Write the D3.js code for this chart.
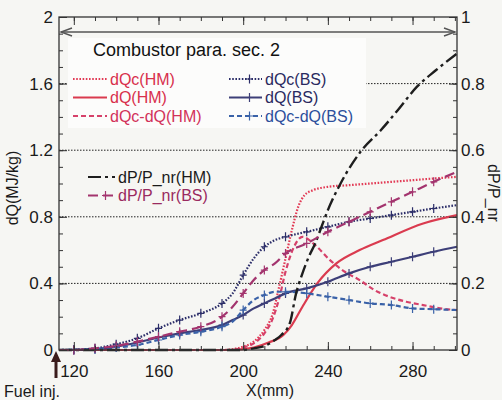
<!DOCTYPE html>
<html>
<head>
<meta charset="utf-8">
<script src="https://cdn.jsdelivr.net/npm/d3@7"></script>
<style>
body { margin: 0; background: #f6f6f3; }
text { font-family: "Liberation Sans", Arial, sans-serif; }
</style>
</head>
<body>
<svg></svg>
<script>
// X positions (mm) and values
const xQcHM = [113, 190, 200, 205, 210, 214, 217, 220, 223, 226, 229, 233, 240, 250, 260, 270, 280, 290, 301]
const dQcHM = [0, 0, 0.02, 0.05, 0.12, 0.22, 0.38, 0.55, 0.72, 0.86, 0.93, 0.96, 0.98, 0.99, 1.0, 1.01, 1.02, 1.03, 1.04]

const xQHM = [113, 195, 200, 205, 212, 219, 223, 228, 235, 244, 255, 266, 285, 301]
const dQHM = [0, 0, 0.005, 0.015, 0.045, 0.09, 0.15, 0.26, 0.4, 0.52, 0.6, 0.66, 0.76, 0.81]

const xDiffHM = [113, 195, 200, 205, 210, 214, 217, 220, 224, 228, 234, 241, 248, 255, 262, 269, 277, 285, 293, 301]
const dQdiffHM = [0, 0, 0.015, 0.04, 0.1, 0.19, 0.31, 0.47, 0.62, 0.68, 0.63, 0.54, 0.47, 0.42, 0.36, 0.32, 0.29, 0.27, 0.25, 0.24]

const xBS = [113, 120, 130, 140, 150, 160, 170, 180, 190, 195, 200, 205, 210, 215, 220, 230, 240, 250, 260, 270, 280, 290, 301]
const dQcBS = [0, 0.002, 0.01, 0.035, 0.07, 0.13, 0.18, 0.22, 0.28, 0.34, 0.45, 0.55, 0.62, 0.66, 0.68, 0.71, 0.74, 0.77, 0.79, 0.81, 0.83, 0.85, 0.87]
const dQBS = [0, 0, 0.005, 0.02, 0.045, 0.075, 0.1, 0.12, 0.15, 0.18, 0.21, 0.25, 0.28, 0.31, 0.34, 0.37, 0.41, 0.46, 0.5, 0.53, 0.56, 0.59, 0.62]
const dQdiffBS = [0, 0.002, 0.005, 0.015, 0.03, 0.06, 0.09, 0.11, 0.14, 0.17, 0.24, 0.3, 0.33, 0.35, 0.35, 0.34, 0.32, 0.3, 0.28, 0.27, 0.25, 0.245, 0.24]
const dPBS = [0, 0, 0.005, 0.012, 0.025, 0.04, 0.055, 0.07, 0.1, 0.13, 0.17, 0.21, 0.24, 0.26, 0.29, 0.32, 0.355, 0.385, 0.415, 0.445, 0.475, 0.505, 0.535]

const xPHM = [113, 200, 205, 210, 215, 218, 222, 225, 228, 231, 234, 237, 240, 246, 256, 265, 273, 282, 291, 301]
const dPHM = [0, 0, 0.005, 0.012, 0.03, 0.045, 0.08, 0.17, 0.23, 0.28, 0.32, 0.37, 0.42, 0.5, 0.6, 0.66, 0.72, 0.79, 0.84, 0.89]

const xTicks = [120, 160, 200, 240, 280]
const yTicks = [0, 0.4, 0.8, 1.2, 1.6, 2]
const y2Ticks = [0, 0.2, 0.4, 0.6, 0.8, 1]
const gridVals = [0.4, 0.8, 1.2, 1.6]

const width = 502
const height = 400

const svg = d3.select("svg")
      .attr("width", width)
      .attr("height", height)

const x = d3.scaleLinear().domain([113, 301]).range([59, 457])
const y = d3.scaleLinear().domain([0, 2]).range([350, 17])
const y2 = d3.scaleLinear().domain([0, 1]).range([350, 17])

// grid
svg.append("g")
      .selectAll("line")
      .data(gridVals)
      .join("line")
      .attr("x1", x.range()[0]).attr("x2", x.range()[1])
      .attr("y1", d => y(d)).attr("y2", d => y(d))
      .attr("stroke", "#222")
      .attr("stroke-width", 1)
      .attr("stroke-dasharray", "1.5,1.5")

// legend background hides the grid
svg.append("rect")
      .attr("x", 68).attr("y", 38)
      .attr("width", 298).attr("height", 90)
      .attr("fill", "#fcfcfb")

// top double arrow
const arrowY = 32
svg.append("line")
      .attr("x1", 61).attr("x2", 455)
      .attr("y1", arrowY).attr("y2", arrowY)
      .attr("stroke", "#555").attr("stroke-width", 1.4)
svg.append("path")
      .attr("d", `M72,${arrowY - 4}L61,${arrowY}L72,${arrowY + 4}M444,${arrowY - 4}L455,${arrowY}L444,${arrowY + 4}`)
      .attr("fill", "none").attr("stroke", "#555").attr("stroke-width", 1.4)

const series = [
      { name: "dQc(HM)", xs: xQcHM, ys: dQcHM, sc: y, color: "#e23a55", dash: "1.6,1.6", w: 2.2, mark: false },
      { name: "dQ(HM)", xs: xQHM, ys: dQHM, sc: y, color: "#da3b4f", dash: null, w: 2.2, mark: false },
      { name: "dQc-dQ(HM)", xs: xDiffHM, ys: dQdiffHM, sc: y, color: "#d6416a", dash: "5,3", w: 2.2, mark: false },
      { name: "dQc(BS)", xs: xBS, ys: dQcBS, sc: y, color: "#2b2d68", dash: "1.6,1.6", w: 2.2, mark: true },
      { name: "dQ(BS)", xs: xBS, ys: dQBS, sc: y, color: "#3d3f78", dash: null, w: 2.2, mark: true },
      { name: "dQc-dQ(BS)", xs: xBS, ys: dQdiffBS, sc: y, color: "#3a62a8", dash: "5,3", w: 2.2, mark: true },
      { name: "dP/P_nr(HM)", xs: xPHM, ys: dPHM, sc: y2, color: "#1e1e1e", dash: "13,4,3,4", w: 2.4, mark: false },
      { name: "dP/P_nr(BS)", xs: xBS, ys: dPBS, sc: y2, color: "#a3346e", dash: "10,5", w: 2.2, mark: true }
]

const line = d3.line().curve(d3.curveMonotoneX)

const plot = svg.append("g")
series.forEach(s => {
      const pts = s.xs.map((v, i) => [x(v), s.sc(s.ys[i])])
      plot.append("path")
            .attr("d", line(pts))
            .attr("fill", "none")
            .attr("stroke", s.color)
            .attr("stroke-width", s.w)
            .attr("stroke-dasharray", s.dash)
      if (s.mark) {
            plot.append("g")
                  .selectAll("path")
                  .data(pts.filter((p, i) => s.xs[i] % 10 === 0 && s.xs[i] > 113 && s.xs[i] < 301))
                  .join("path")
                  .attr("transform", d => `translate(${d[0]},${d[1]})`)
                  .attr("d", "M-3.5,0H3.5M0,-4.5V4.5")
                  .attr("stroke", s.color)
                  .attr("stroke-width", 1.2)
      }
})

// axes
const fmt = d => String(+d.toFixed(1))
const minorX = d3.range(120, 301, 10)
const minorY = d3.range(0, 2.01, 0.1)

const axisG = svg.append("g")

axisG.append("g").attr("transform", "translate(0,350)")
      .call(d3.axisBottom(x).tickValues(minorX).tickSize(-4).tickFormat(""))
axisG.append("g").attr("transform", "translate(0,350)")
      .call(d3.axisBottom(x).tickValues(xTicks).tickSize(-8).tickPadding(15).tickFormat(d3.format("d")))
axisG.append("g").attr("transform", "translate(0,17)")
      .call(d3.axisTop(x).tickValues(minorX).tickSize(-4).tickFormat(""))
axisG.append("g").attr("transform", "translate(0,17)")
      .call(d3.axisTop(x).tickValues(xTicks).tickSize(-8).tickFormat(""))

axisG.append("g").attr("transform", "translate(59,0)")
      .call(d3.axisLeft(y).tickValues(minorY).tickSize(-4).tickFormat(""))
axisG.append("g").attr("transform", "translate(59,0)")
      .call(d3.axisLeft(y).tickValues(yTicks).tickSize(-8).tickPadding(6).tickFormat(fmt))
axisG.append("g").attr("transform", "translate(457,0)")
      .call(d3.axisRight(y2).tickValues(minorY.map(v => v / 2)).tickSize(-4).tickFormat(""))
axisG.append("g").attr("transform", "translate(457,0)")
      .call(d3.axisRight(y2).tickValues(y2Ticks).tickSize(-8).tickPadding(4).tickFormat(fmt))

axisG.selectAll(".domain").remove()
axisG.selectAll("line").attr("stroke", "#333")
axisG.selectAll("text")
      .attr("fill", "#1a1a1a")
      .attr("font-size", 17)
      .attr("font-family", "'Liberation Sans', Arial, sans-serif")

svg.append("rect")
      .attr("x", 59).attr("y", 17)
      .attr("width", 398).attr("height", 333)
      .attr("fill", "none").attr("stroke", "#333").attr("stroke-width", 1.3)

// axis titles
svg.append("text")
      .attr("transform", "translate(18,188) rotate(-90)")
      .attr("text-anchor", "middle")
      .attr("font-size", 16).attr("fill", "#1a1a1a")
      .text("dQ(MJ/kg)")
svg.append("text")
      .attr("transform", "translate(488,193) rotate(90)")
      .attr("text-anchor", "middle")
      .attr("font-size", 16).attr("fill", "#1a1a1a")
      .text("dP/P_nr")
svg.append("text")
      .attr("x", 270).attr("y", 396)
      .attr("text-anchor", "middle")
      .attr("font-size", 16).attr("fill", "#1a1a1a")
      .text("X(mm)")

// fuel injection marker
svg.append("line")
      .attr("x1", 56).attr("x2", 56).attr("y1", 378).attr("y2", 360)
      .attr("stroke", "#3a1c1c").attr("stroke-width", 3)
svg.append("path")
      .attr("d", "M56,351L61,362L51,362Z")
      .attr("fill", "#3a1c1c")
svg.append("text")
      .attr("x", 4).attr("y", 397)
      .attr("font-size", 16).attr("fill", "#1a1a1a")
      .text("Fuel inj.")

// legend
svg.append("text")
      .attr("x", 93).attr("y", 56)
      .attr("font-size", 18).attr("fill", "#111")
      .text("Combustor para. sec. 2")

const legendText = {
      "dQc(HM)": "#d8304c", "dQ(HM)": "#d8304c", "dQc-dQ(HM)": "#d2325a",
      "dQc(BS)": "#2a2a60", "dQ(BS)": "#2a2a60", "dQc-dQ(BS)": "#2c4f9c",
      "dP/P_nr(HM)": "#1a1a1a", "dP/P_nr(BS)": "#9a2a60"
}
const legendPos = [
      [73, 107, 79], [73, 107, 97.5], [73, 107, 116],
      [229, 262, 79], [229, 262, 97.5], [229, 262, 116],
      [88, 115, 177], [88, 115, 195.5]
]

const leg = svg.append("g")
series.forEach((s, i) => {
      const [a, b, cy] = legendPos[i]
      leg.append("line")
            .attr("x1", a).attr("x2", b).attr("y1", cy).attr("y2", cy)
            .attr("stroke", s.color).attr("stroke-width", 1.8)
            .attr("stroke-dasharray", s.dash)
      if (s.mark) {
            leg.append("path")
                  .attr("transform", `translate(${(a + b) / 2 + 4},${cy})`)
                  .attr("d", "M-3.5,0H3.5M0,-4.5V4.5")
                  .attr("stroke", s.color).attr("stroke-width", 1.2)
      }
      leg.append("text")
            .attr("x", b + 3).attr("y", cy)
            .attr("dy", "0.35em")
            .attr("font-size", 16)
            .attr("fill", legendText[s.name])
            .text(s.name)
})
</script>
</body>
</html>
